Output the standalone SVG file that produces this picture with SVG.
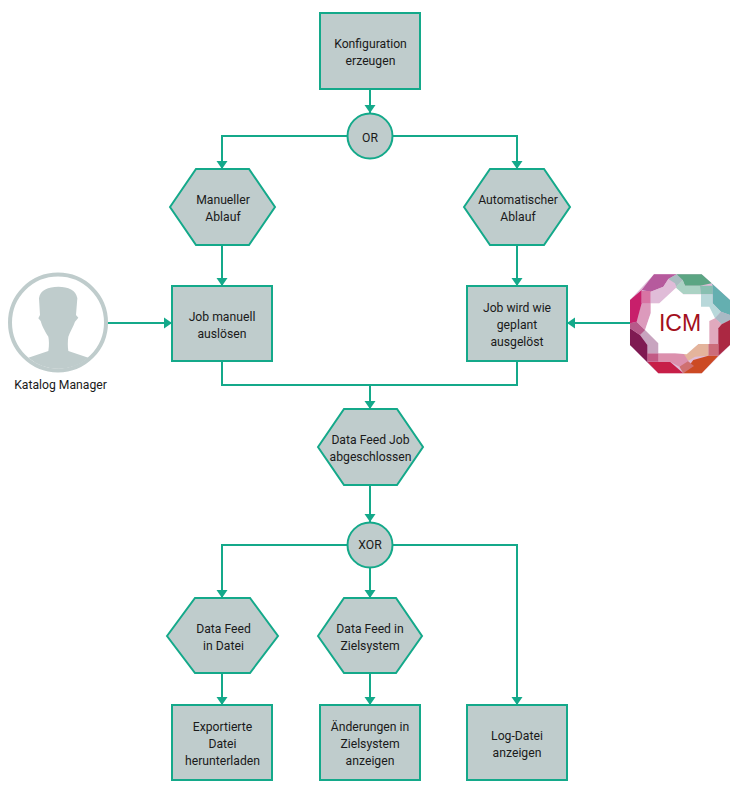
<svg xmlns="http://www.w3.org/2000/svg" width="738" height="791" viewBox="0 0 738 791">
<style>
.n{fill:#bfcccc;stroke:#14a98a;stroke-width:2}
.c{fill:none;stroke:#14a98a;stroke-width:2}
text{font-family:Roboto,"Liberation Sans",sans-serif;font-size:12.2px;fill:#1a1a1a;text-anchor:middle}
</style>
<defs><marker id="a" markerUnits="userSpaceOnUse" markerWidth="12" markerHeight="12" refX="8" refY="6" orient="auto"><path d="M0 0.500L8 6L0 11.500Z" fill="#14a98a"/></marker></defs>
<rect width="738" height="791" fill="#fff"/>
<g id="connectors">
<path class="c" marker-end="url(#a)" d="M370 89V113"/>
<path class="c" marker-end="url(#a)" d="M347 136H222V169"/>
<path class="c" marker-end="url(#a)" d="M393 136H517V169"/>
<path class="c" marker-end="url(#a)" d="M222 245V286"/>
<path class="c" marker-end="url(#a)" d="M517 245V286"/>
<path class="c" marker-end="url(#a)" d="M107 323H172"/>
<path class="c" marker-end="url(#a)" d="M630 323H567"/>
<path class="c" d="M222 361V385H517V361"/>
<path class="c" marker-end="url(#a)" d="M370 385V409"/>
<path class="c" marker-end="url(#a)" d="M370 485V522"/>
<path class="c" marker-end="url(#a)" d="M347 545H222V598"/>
<path class="c" marker-end="url(#a)" d="M370 568V598"/>
<path class="c" marker-end="url(#a)" d="M393 545H517V705"/>
<path class="c" marker-end="url(#a)" d="M222 673V705"/>
<path class="c" marker-end="url(#a)" d="M370 673V705"/>
</g>
<g id="n1"><rect class="n" x="320" y="13" width="100" height="76"/><text x="370.500" y="48">Konfiguration</text><text x="370.500" y="65">erzeugen</text></g>
<g id="n2"><circle class="n" cx="370" cy="136" r="22.500"/><text x="370" y="142">OR</text></g>
<g id="n3"><path class="n" d="M170 207L196 169H249L275 207L249 245H196Z"/><text x="223" y="204">Manueller</text><text x="223" y="221">Ablauf</text></g>
<g id="n4"><path class="n" d="M464 207L490 169H544L570 207L544 245H490Z"/><text x="518" y="204">Automatischer</text><text x="518" y="221">Ablauf</text></g>
<g id="n5"><rect class="n" x="172" y="286" width="100" height="75"/><text x="222" y="321">Job manuell</text><text x="222" y="338">auslösen</text></g>
<g id="n6"><rect class="n" x="467" y="286" width="100" height="75"/><text x="517" y="312">Job wird wie</text><text x="517" y="329">geplant</text><text x="517" y="346">ausgelöst</text></g>
<g id="actor">
<circle cx="58" cy="322.500" r="48" fill="#fff" stroke="#bfcccc" stroke-width="4"/>
<path transform="translate(0 265) scale(.33333)" fill="#bfcccc" d="M85 278L145 258C148 240 147 225 145 215C135 200 125 180 122 168L115 160L120 150L117 100C120 75 145 65 175 65C205 65 228 75 232 100L228 150L235 158L225 170C220 185 210 200 205 215C203 228 203 245 205 258L265 278A138 138 0 0 1 85 278Z"/>
<text x="60.500" y="389">Katalog Manager</text>
</g>
<g id="icm">
<g transform="translate(620 265) scale(.33333)">
<path fill="#e0bcd8" d="M102 28H245L330 105V240L245 325H115L30 240V105Z"/>
<path fill="#b65a9d" d="M65 75L102 28H170L145 42L130 65L92 80Z"/>
<path fill="#a9bcc0" d="M145 42L170 28L188 45L165 68Z"/>
<path fill="#5ba583" d="M170 28H245L275 55L240 62H195L188 45Z"/>
<path fill="#abd2c4" d="M188 45L195 62H240L243 88H190L165 68Z"/>
<path fill="#88bfb1" d="M240 62H278V88H243Z"/>
<path fill="#64afb0" d="M245 28L330 105V150L303 140L278 115V62L275 55Z"/>
<path fill="#b8d8da" d="M243 88H278V115L303 140L285 160L265 150L243 125Z"/>
<path fill="#a9b9c4" d="M303 140L330 150V165L305 178L285 160Z"/>
<path fill="#e0a9bd" d="M265 150L285 160L305 178L295 190V237H265Z"/>
<path fill="#ab2842" d="M330 165V240L295 272V190L305 178Z"/>
<path fill="#cc6c7a" d="M265 237H295V272H265Z"/>
<path fill="#e4b49c" d="M235 237H265V272L225 275L200 290L190 268Z"/>
<path fill="#cc4a24" d="M190 325L220 285L265 272H295L245 325Z"/>
<path fill="#cf7070" d="M178 305L200 285L222 303L190 325Z"/>
<path fill="#c71f48" d="M82 290H150L190 325H115Z"/>
<path fill="#dc90ad" d="M115 265H190L205 288L178 305L150 290H115Z"/>
<path fill="#c25a85" d="M82 265H115V290H82Z"/>
<path fill="#c8a4bf" d="M60 210L75 190L115 235V265H82V240Z"/>
<path fill="#7f1a52" d="M30 190L60 210L82 240V290L115 325L30 240Z"/>
<path fill="#b65a8a" d="M30 175L50 170L75 195L60 210L30 190Z"/>
<path fill="#dc9abc" d="M65 115H118L92 145L75 195L50 170Z"/>
<path fill="#c81f6b" d="M65 75V115L50 170L30 175V105Z"/>
<path fill="#d874a4" d="M65 78H92V115H65Z"/>
<path fill="#e0bcd8" d="M92 80L130 65L145 42L165 55L170 68L118 115H92Z"/>
<path fill="#fff" d="M118 115L168 68L190 88H243V125H268L285 160L268 168V237H235L200 268L165 265H115V235L75 195L92 145V115Z"/>
</g>
<text x="680" y="331" style="font-family:'Liberation Sans',Arial,sans-serif;font-size:23px;fill:#a30f1c">ICM</text>
</g>
<g id="n7"><path class="n" d="M318 447L344 409H397L423 447L397 485H344Z"/><text x="370.500" y="444">Data Feed Job</text><text x="370.500" y="461">abgeschlossen</text></g>
<g id="n8"><circle class="n" cx="370" cy="545" r="22.500"/><text x="370" y="549">XOR</text></g>
<g id="n9"><path class="n" d="M167 636L195 598H250L278 636L250 673H195Z"/><text x="223.500" y="633">Data Feed</text><text x="223.500" y="650">in Datei</text></g>
<g id="n10"><path class="n" d="M318 636L344 598H396L422 636L396 673H344Z"/><text x="370" y="633">Data Feed in</text><text x="370" y="650">Zielsystem</text></g>
<g id="n11"><rect class="n" x="172" y="705" width="100" height="75"/><text x="222.500" y="731">Exportierte</text><text x="222.500" y="748">Datei</text><text x="222.500" y="765">herunterladen</text></g>
<g id="n12"><rect class="n" x="320" y="705" width="100" height="75"/><text x="370" y="731">Änderungen in</text><text x="370" y="748">Zielsystem</text><text x="370" y="765">anzeigen</text></g>
<g id="n13"><rect class="n" x="467" y="705" width="100" height="75"/><text x="517" y="740">Log-Datei</text><text x="517" y="757">anzeigen</text></g>
</svg>
